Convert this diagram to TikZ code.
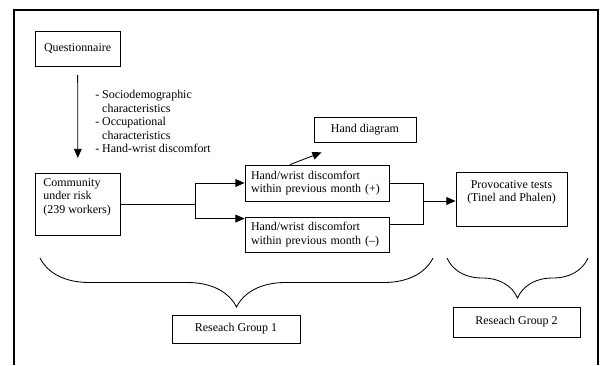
\documentclass[tikz,border=0pt]{standalone}
\usepackage{fontspec}
\setmainfont{Liberation Serif}
\usepackage{tikz}
\usetikzlibrary{arrows.meta}
\usetikzlibrary{decorations}
\usetikzlibrary{decorations.pathreplacing}
\usetikzlibrary{calc}

\begin{document}
\begin{tikzpicture}[
	box/.style={draw, line width=0.6pt, inner sep=0pt, align=center},
	arr/.style={-{Triangle[length=6.5pt,width=5.5pt]}, line width=0.6pt},
	grpbrace/.style={decorate, line width=0.6pt, decoration={brace, mirror, amplitude=#1}},
	font=\fontsize{8.5}{9.6}\selectfont]
	
	\useasboundingbox (0,0) rectangle (15.075,9.125);
	
	\draw [line width=0.8pt] (0.35,0) -- (0.35,8.875) -- (14.95,8.875) -- (14.95,0);
	
	\node [box, minimum width=2.125cm, minimum height=0.875cm] (quest) at (1.94,7.9) {Questionnaire};
	
	\node [box, anchor=north west, inner xsep=0.2cm, inner ysep=0.12cm] (comm) at (0.875,4.8) {\parbox[t][1.31cm][t]{1.725cm}{\raggedright Community\\under risk\\(239 workers)}};
	
	\node [anchor=north west, align=left, inner sep=0pt] (notes) at (2.375,6.875) {- Sociodemographic\\\phantom{- }characteristics\\- Occupational\\\phantom{- }characteristics\\- Hand-wrist discomfort};
	
	\draw [arr, shorten <=0.2cm, shorten >=0.375cm] (quest) -- (comm);
	
	\node [box, minimum height=0.9cm, align=left, text width=3.3cm, inner xsep=0.15cm] (hwpos) at (7.925,4.55) {Hand/wrist discomfort\\within previous month (+)};
	
	\node [box, minimum height=0.875cm, align=left, text width=3.3cm, inner xsep=0.15cm] (hwneg) at (7.925,3.2625) {Hand/wrist discomfort\\within previous month (--)};
	
	\node [box, minimum width=2.55cm, minimum height=0.625cm] (hdiag) at (9.125,5.8875) {Hand diagram};
	
	\node [box, anchor=north, inner ysep=0.2cm] (provo) at (12.7875,4.825) {\parbox[t][0.95cm][t]{2.775cm}{\centering Provocative tests\\(Tinel and Phalen)}};
	
	\node [box, minimum width=3.2cm, minimum height=0.7cm] (grp1) at (5.9,0.9) {Reseach Group 1};
	
	\node [box, minimum width=3.175cm, minimum height=0.75cm] (grp2) at (12.9125,1.075) {Reseach Group 2};
	
	\coordinate (split) at ($(comm.east)+(1.875,0)$);
	\coordinate (negin) at ([yshift=-0.05cm]hwneg.north west);
	\coordinate (negout) at ([yshift=0.24cm]hwneg.east);
	\coordinate (merge) at (10.575,4.1);
	
	\draw [line width=0.6pt] (comm.east) -- (split);
	\draw [arr] (split) |- (hwpos.west);
	\draw [arr] (split) |- (negin);
	
	\draw [line width=0.6pt] (hwpos.east) -| (merge);
	\draw [line width=0.6pt] (negout) -| (merge);
	\draw [arr] (merge) -- (merge -| provo.west);
	
	\draw [arr] ([xshift=-0.675cm]hwpos.north) -- ([shift={(0.2,-0.25)}]hdiag.south west);
	
	\coordinate (b1l) at (1.0,2.675);
	\coordinate (b1r) at (10.825,2.675);
	\coordinate (b2l) at (11.175,2.675);
	\coordinate (b2r) at (14.7,2.675);
	
	\draw [grpbrace=1.225cm] (b1l) -- (b1r);
	\draw [grpbrace=1cm] (b2l) -- (b2r);
	
\end{tikzpicture}
\end{document}
